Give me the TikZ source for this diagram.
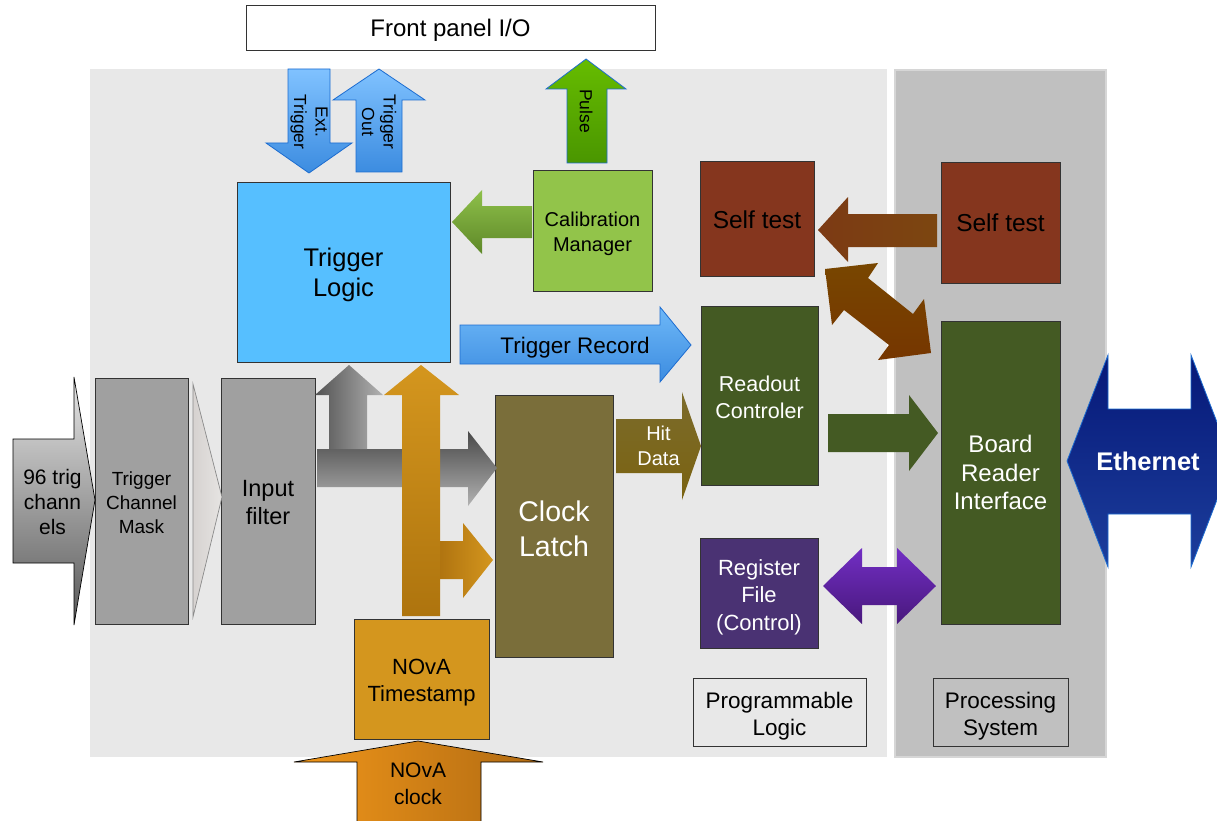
\documentclass[tikz,border=0pt]{standalone}
\usepackage{fontspec}
\setmainfont{Liberation Sans}
\newcommand\fsz[2]{\fontsize{#1}{#2}\selectfont}

\definecolor{plbg}{HTML}{E8E8E8}
\definecolor{psbg}{HTML}{C0C0C0}
\definecolor{psedge}{HTML}{D6D6D6}
\definecolor{boxline}{HTML}{333333}
\definecolor{tlblue}{HTML}{56BFFF}
\definecolor{calgreen}{HTML}{92C44A}
\definecolor{stbrown}{HTML}{85361E}
\definecolor{dkgreen}{HTML}{445A23}
\definecolor{regpurple}{HTML}{4A3273}
\definecolor{latch}{HTML}{7A6E3A}
\definecolor{nova}{HTML}{D4961E}
\definecolor{maskgrey}{HTML}{A0A0A0}
\definecolor{bluetop}{HTML}{80C2FF}
\definecolor{bluebot}{HTML}{3C8CE0}
\definecolor{blueline}{HTML}{1C6CD0}

\begin{document}
\begin{tikzpicture}[x=1pt,y=-1pt,
  box/.style={draw=boxline, line width=1pt, inner sep=0pt},
  lbl/.style={inner sep=0pt, align=center},
  bluearrow/.style={draw=blueline, line width=0.8pt, top color=bluetop, bottom color=bluebot},
  thinline/.style={line width=0.7pt}
]
\useasboundingbox (0,0) rectangle (1217,821);
\fill[white] (0,0) rectangle (1217,821);
\begin{scope}
\clip (0,0) rectangle (1217,821);

% background regions
\fill[plbg] (90,69) rectangle (887,757);
\filldraw[fill=psbg, draw=psedge, line width=1.5pt] (895,70) rectangle (1106,757);

% front panel
\node[box, fill=white, minimum width=409pt, minimum height=45pt] (fp) at (450.5,28.5) {};
\node[lbl, font=\fsz{24}{28}] at ([yshift=-2pt]fp.center) {Front panel I/O};

% front panel arrows
\draw[bluearrow] (288,69) -- (330,69) -- (330,143) -- (352,143) -- (309,173) -- (266,143) -- (288,143) -- cycle;
\node[lbl, rotate=-90, font=\fsz{17.5}{21.5}] (exttrig) at (309,122) {Ext.\\Trigger};
\draw[bluearrow] (379,69) -- (425,100) -- (402,100) -- (402,172) -- (356,172) -- (356,100) -- (333,100) -- cycle;
\node[lbl, rotate=-90, font=\fsz{17.5}{21.5}] (trigout) at (379,122) {Trigger\\Out};
\draw[draw=blueline, line width=0.8pt, top color={rgb,255:red,102;green,188;blue,0}, bottom color={rgb,255:red,74;green,150;blue,0}]
  (586,59) -- (626,89) -- (607,89) -- (607,163) -- (567,163) -- (567,89) -- (546,89) -- cycle;
\node[lbl, rotate=-90, font=\fsz{17.5}{21.5}] (pulse) at (586,111) {Pulse};

% main blocks
\node[box, fill=tlblue, minimum width=213pt, minimum height=179pt] (tl) at (343.5,272.5) {};
\node[lbl, font=\fsz{25.5}{30.5}] at ([yshift=-2.5pt]tl.center) {Trigger\\Logic};
\node[box, fill=calgreen, minimum width=119pt, minimum height=120pt] (cal) at (592.5,231) {};
\node[lbl, font=\fsz{20}{24.5}] at ([yshift=-3pt]cal.center) {Calibration\\Manager};
\node[box, fill=stbrown, minimum width=114pt, minimum height=114pt] (st1) at (757,219) {};
\node[lbl, font=\fsz{24.5}{28}] at ([yshift=-1pt]st1.center) {Self test};
\node[box, fill=stbrown, minimum width=119pt, minimum height=120pt] (st2) at (1000.5,223) {};
\node[lbl, font=\fsz{24.5}{28}] at (st2.center) {Self test};
\node[box, fill=dkgreen, minimum width=117pt, minimum height=179pt] (ro) at (759.5,395.5) {};
\node[lbl, text=white, font=\fsz{21.5}{27}] at ([yshift=-2pt]ro.center) {Readout\\Controler};
\node[box, fill=dkgreen, minimum width=119pt, minimum height=303pt] (bri) at (1000.5,472.5) {};
\node[lbl, text=white, font=\fsz{24}{28.5}] at (bri.center) {Board\\Reader\\Interface};
\node[box, fill=regpurple, minimum width=118pt, minimum height=110pt] (rf) at (759,593) {};
\node[lbl, text=white, font=\fsz{22}{27.5}] at ([yshift=-4pt]rf.center) {Register\\File\\(Control)};
\node[box, fill=latch, minimum width=118pt, minimum height=262pt] (cl) at (554,526) {};
\node[lbl, text=white, font=\fsz{28.5}{34.5}] at ([yshift=-3pt]cl.center) {Clock\\Latch};
\node[box, fill=nova, minimum width=135pt, minimum height=120pt] (ts) at (421.5,679) {};
\node[lbl, font=\fsz{22}{27}] at ([yshift=-4pt]ts.center) {NOvA\\Timestamp};
\node[box, fill=maskgrey, minimum width=94pt, minimum height=246pt] (inf) at (268,501) {};
\node[lbl, font=\fsz{23.5}{28}] at ([yshift=-2pt]inf.center) {Input\\filter};
\node[box, fill=maskgrey, minimum width=93pt, minimum height=246pt] (tcm) at (141.5,501) {};
\node[lbl, font=\fsz{19}{24}] at ([yshift=-1.5pt]tcm.center) {Trigger\\Channel\\Mask};
\node[box, fill=plbg, minimum width=173pt, minimum height=68pt] (pl) at (779.5,712) {};
\node[lbl, font=\fsz{22.5}{27}] at ([yshift=-4pt]pl.center) {Programmable\\Logic};
\node[box, fill=psbg, minimum width=135pt, minimum height=68pt] (ps) at (1000.5,712) {};
\node[lbl, font=\fsz{22.5}{27}] at ([yshift=-4pt]ps.center) {Processing\\System};

% calibration manager to trigger logic
\path[top color={rgb,255:red,142;green,192;blue,74}, bottom color={rgb,255:red,94;green,136;blue,40}]
  (452,222) -- (482,190) -- (482,206) -- (532,206) -- (532,238) -- (482,238) -- (482,254) -- cycle;

% trigger record
\draw[draw=blueline, line width=0.8pt, top color={rgb,255:red,110;green,184;blue,248}, bottom color=bluebot]
  (460,325) -- (660,325) -- (660,307) -- (691,345) -- (660,382) -- (660,364) -- (460,364) -- cycle;
\node[lbl, font=\fsz{22.5}{27}] (trec) at (575,348) {Trigger Record};

% self test link
\path[left color={rgb,255:red,124;green,58;blue,20}, right color={rgb,255:red,124;green,70;blue,16}]
  (818,230) -- (848,197) -- (848,214) -- (937,214) -- (937,247) -- (848,247) -- (848,262) -- cycle;
\path[top color={rgb,255:red,120;green,70;blue,0}, bottom color={rgb,255:red,118;green,54;blue,0}]
  (825,269) -- (878,263) -- (868,278) -- (913,314) -- (924,299) -- (931,353)
  -- (878,360) -- (889,345) -- (844,310) -- (832,325) -- cycle;

% readout to board reader
\path[fill=dkgreen]
  (828,414) -- (909,414) -- (909,395) -- (938,433) -- (909,471) -- (909,452) -- (828,452) -- cycle;

% register file link
\path[top color={rgb,255:red,114;green,46;blue,196}, bottom color={rgb,255:red,72;green,24;blue,124}]
  (823,586) -- (862,548) -- (862,567) -- (897,567) -- (897,548) -- (936,586)
  -- (897,624) -- (897,605) -- (862,605) -- (862,624) -- cycle;

% ethernet
\draw[draw=blueline, line width=0.8pt, top color={rgb,255:red,6;green,24;blue,120}, bottom color={rgb,255:red,28;green,62;blue,156}]
  (1067,461) -- (1108,355) -- (1108,409) -- (1191,409) -- (1191,355) -- (1232,461)
  -- (1191,567) -- (1191,514) -- (1108,514) -- (1108,567) -- cycle;
\node[lbl, text=white, font=\bfseries\fsz{25.5}{30}] (eth) at (1148,461) {Ethernet};

% hit data
\path[top color={rgb,255:red,124;green,108;blue,44}, bottom color={rgb,255:red,122;green,98;blue,16}]
  (616,419) -- (682,419) -- (682,392) -- (701,446) -- (682,500) -- (682,473) -- (616,473) -- cycle;
\node[lbl, text=white, font=\fsz{20}{25.5}] (hit) at (658.5,446) {Hit\\Data};

% input filter outputs
\path[top color={rgb,255:red,72;green,72;blue,72}, bottom color={rgb,255:red,178;green,178;blue,178}]
  (317,449) -- (468,449) -- (468,431) -- (497,468) -- (468,506) -- (468,487) -- (317,487) -- cycle;
\path[left color={rgb,255:red,82;green,82;blue,82}, right color={rgb,255:red,178;green,178;blue,178}]
  (349,365) -- (383,395) -- (367,395) -- (367,449) -- (329,449) -- (329,395) -- (315,395) -- cycle;

% timestamp distribution
\path[left color={rgb,255:red,176;green,116;blue,16}, right color=nova]
  (440,541) -- (463,541) -- (463,523) -- (493,560) -- (463,598) -- (463,579) -- (440,579) -- cycle;
\path[top color=nova, bottom color={rgb,255:red,174;green,116;blue,14}]
  (421,365) -- (459,395) -- (440,395) -- (440,616) -- (402,616) -- (402,395) -- (384,395) -- cycle;

% NOvA clock input
\draw[thinline, draw=black, left color={rgb,255:red,240;green,150;blue,26}, right color={rgb,255:red,176;green,106;blue,18}]
  (418,741) -- (543,762) -- (481,762) -- (481,830) -- (357,830) -- (357,762) -- (294,762) -- cycle;
\node[lbl, font=\fsz{21}{27}] (clk) at (418,784) {NOvA\\clock};

% trigger channel input
\draw[thinline, draw=black, top color={rgb,255:red,230;green,230;blue,230}, bottom color={rgb,255:red,88;green,88;blue,88}]
  (13,439) -- (74,439) -- (74,377) -- (95,500) -- (74,625) -- (74,563) -- (13,563) -- cycle;
\node[lbl, font=\fsz{21}{25}] (trig96) at (52.5,502) {96 trig\\chann\\els};

% mask to filter
\draw[thinline, draw={rgb,255:red,138;green,138;blue,138}, left color={rgb,255:red,214;green,210;blue,208}, right color={rgb,255:red,230;green,228;blue,226}]
  (193,384) -- (222,497) -- (193,617) -- cycle;
\end{scope}
\end{tikzpicture}
\end{document}
